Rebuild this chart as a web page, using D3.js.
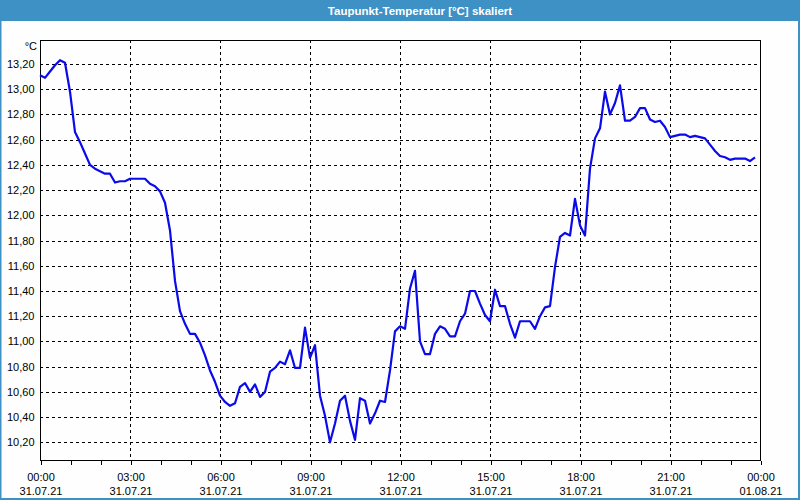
<!DOCTYPE html>
<html>
<head>
<meta charset="utf-8">
<script src="https://cdn.jsdelivr.net/npm/d3@7"></script>
<style>
  body { margin: 0; background: #fff; }
  svg { display: block; font-family: "Liberation Sans", Arial, sans-serif; }
</style>
</head>
<body>
<svg id="chart" width="800" height="500"></svg>
<script>
// Taupunkt values, one reading every 10 minutes from 31.07.21 00:00
const title = "Taupunkt-Temperatur [°C] skaliert";
const unit = "°C";
const startTime = new Date(2021, 6, 31, 0, 0);
const endTime = new Date(2021, 7, 1, 0, 0);
const stepMinutes = 10;
const dewPoint = [
  13.11, 13.09, 13.14, 13.19, 13.23, 13.21, 12.98, 12.66, 12.58, 12.49,
  12.40, 12.37, 12.35, 12.33, 12.33, 12.26, 12.27, 12.27, 12.29, 12.29,
  12.29, 12.29, 12.25, 12.23, 12.19, 12.10, 11.88, 11.48, 11.24, 11.14,
  11.06, 11.06, 10.99, 10.89, 10.77, 10.68, 10.57, 10.52, 10.49, 10.51,
  10.64, 10.67, 10.60, 10.66, 10.56, 10.60, 10.76, 10.79, 10.84, 10.82,
  10.93, 10.79, 10.79, 11.11, 10.87, 10.97, 10.57, 10.41, 10.20, 10.35,
  10.53, 10.57, 10.37, 10.22, 10.55, 10.53, 10.35, 10.43, 10.53, 10.52,
  10.77, 11.08, 11.12, 11.10, 11.42, 11.56, 11.00, 10.90, 10.90, 11.06,
  11.12, 11.10, 11.04, 11.04, 11.16, 11.22, 11.40, 11.40, 11.30, 11.21,
  11.16, 11.41, 11.28, 11.28, 11.14, 11.03, 11.16, 11.16, 11.16, 11.10,
  11.20, 11.27, 11.28, 11.59, 11.83, 11.86, 11.84, 12.13, 11.92, 11.84,
  12.37, 12.61, 12.69, 12.98, 12.80, 12.89, 13.03, 12.75, 12.75, 12.78,
  12.85, 12.85, 12.76, 12.74, 12.75, 12.70, 12.62, 12.63, 12.64, 12.64,
  12.62, 12.63, 12.62, 12.61, 12.56, 12.51, 12.47, 12.46, 12.44, 12.45,
  12.45, 12.45, 12.43, 12.46
];
const yTicks = [10.2, 10.4, 10.6, 10.8, 11.0, 11.2, 11.4, 11.6, 11.8, 12.0, 12.2, 12.4, 12.6, 12.8, 13.0, 13.2];
const yDomain = [10.06, 13.39];

const svg = d3.select("#chart");
const W = 800, H = 500;
const plot = { left: 40, right: 760, top: 40, bottom: 460 };

// frame + title bar
svg.append("rect").attr("width", W).attr("height", H).attr("fill", "#fdfefd");
svg.append("rect").attr("x", 0.5).attr("y", 0.5).attr("width", W - 1.5).attr("height", H - 1.5)
  .attr("fill", "none").attr("stroke", "#3d91c4").attr("stroke-width", 2);
svg.append("rect").attr("width", W).attr("height", 21).attr("fill", "#3d91c4");
svg.append("text").attr("x", 420).attr("y", 14.5).attr("text-anchor", "middle")
  .attr("fill", "#fff").attr("font-weight", "bold").attr("font-size", 11.5).text(title);

const x = d3.scaleTime().domain([startTime, endTime]).range([plot.left, plot.right]);
const y = d3.scaleLinear().domain(yDomain).range([plot.bottom, plot.top]);

const data = dewPoint.map((v, i) => ({ t: d3.timeMinute.offset(startTime, i * stepMinutes), v }));

// grid
const grid = svg.append("g").attr("stroke", "#000").attr("stroke-dasharray", "3,3").attr("shape-rendering", "crispEdges");
grid.selectAll("line.h").data(yTicks).join("line")
  .attr("x1", plot.left).attr("x2", plot.right)
  .attr("y1", d => Math.round(y(d)) + 0.5).attr("y2", d => Math.round(y(d)) + 0.5);
const xMajor = d3.timeHour.every(3).range(startTime, endTime).slice(1);
grid.selectAll("line.v").data(xMajor).join("line")
  .attr("y1", plot.top).attr("y2", plot.bottom)
  .attr("x1", d => Math.round(x(d)) + 0.5).attr("x2", d => Math.round(x(d)) + 0.5);

// axes
const xAxis = d3.axisBottom(x).ticks(d3.timeHour.every(1)).tickSize(4).tickFormat("");
const gx = svg.append("g").attr("transform", `translate(0,${plot.bottom + 0.5})`).call(xAxis);
gx.select(".domain").remove();
gx.selectAll("line").attr("shape-rendering", "crispEdges").attr("transform", "translate(0.5,0)");

const labels = svg.append("g").attr("font-size", 11).attr("fill", "#000").attr("text-anchor", "middle");
d3.timeHour.every(3).range(startTime, d3.timeMinute.offset(endTime, 1)).forEach(d => {
  labels.append("text").attr("x", x(d) + 1).attr("y", 481).text(d3.timeFormat("%H:%M")(d));
  labels.append("text").attr("x", x(d) + 1).attr("y", 495).text(d3.timeFormat("%d.%m.%y")(d));
});

const yAxis = d3.axisLeft(y).tickValues(yTicks).tickSize(0).tickPadding(5)
  .tickFormat(d => d3.format(".2f")(d).replace(".", ","));
const gy = svg.append("g").attr("transform", `translate(${plot.left - 0.5},0)`).call(yAxis);
gy.select(".domain").remove();
gy.selectAll("text").attr("font-family", "Liberation Sans, Arial, sans-serif").attr("font-size", 11).attr("fill", "#000");

svg.append("text").attr("x", 37).attr("y", 50).attr("text-anchor", "end").attr("font-size", 11).text(unit);

// plot border
svg.append("rect").attr("x", plot.left + 0.5).attr("y", plot.top + 0.5)
  .attr("width", plot.right - plot.left).attr("height", plot.bottom - plot.top)
  .attr("fill", "none").attr("stroke", "#000").attr("shape-rendering", "crispEdges");

// series
svg.append("path").datum(data)
  .attr("fill", "none").attr("stroke", "#0a0aeb").attr("stroke-width", 2.2)
  .attr("stroke-linejoin", "round")
  .attr("d", d3.line().x(d => x(d.t)).y(d => y(d.v)));
</script>
</body>
</html>
